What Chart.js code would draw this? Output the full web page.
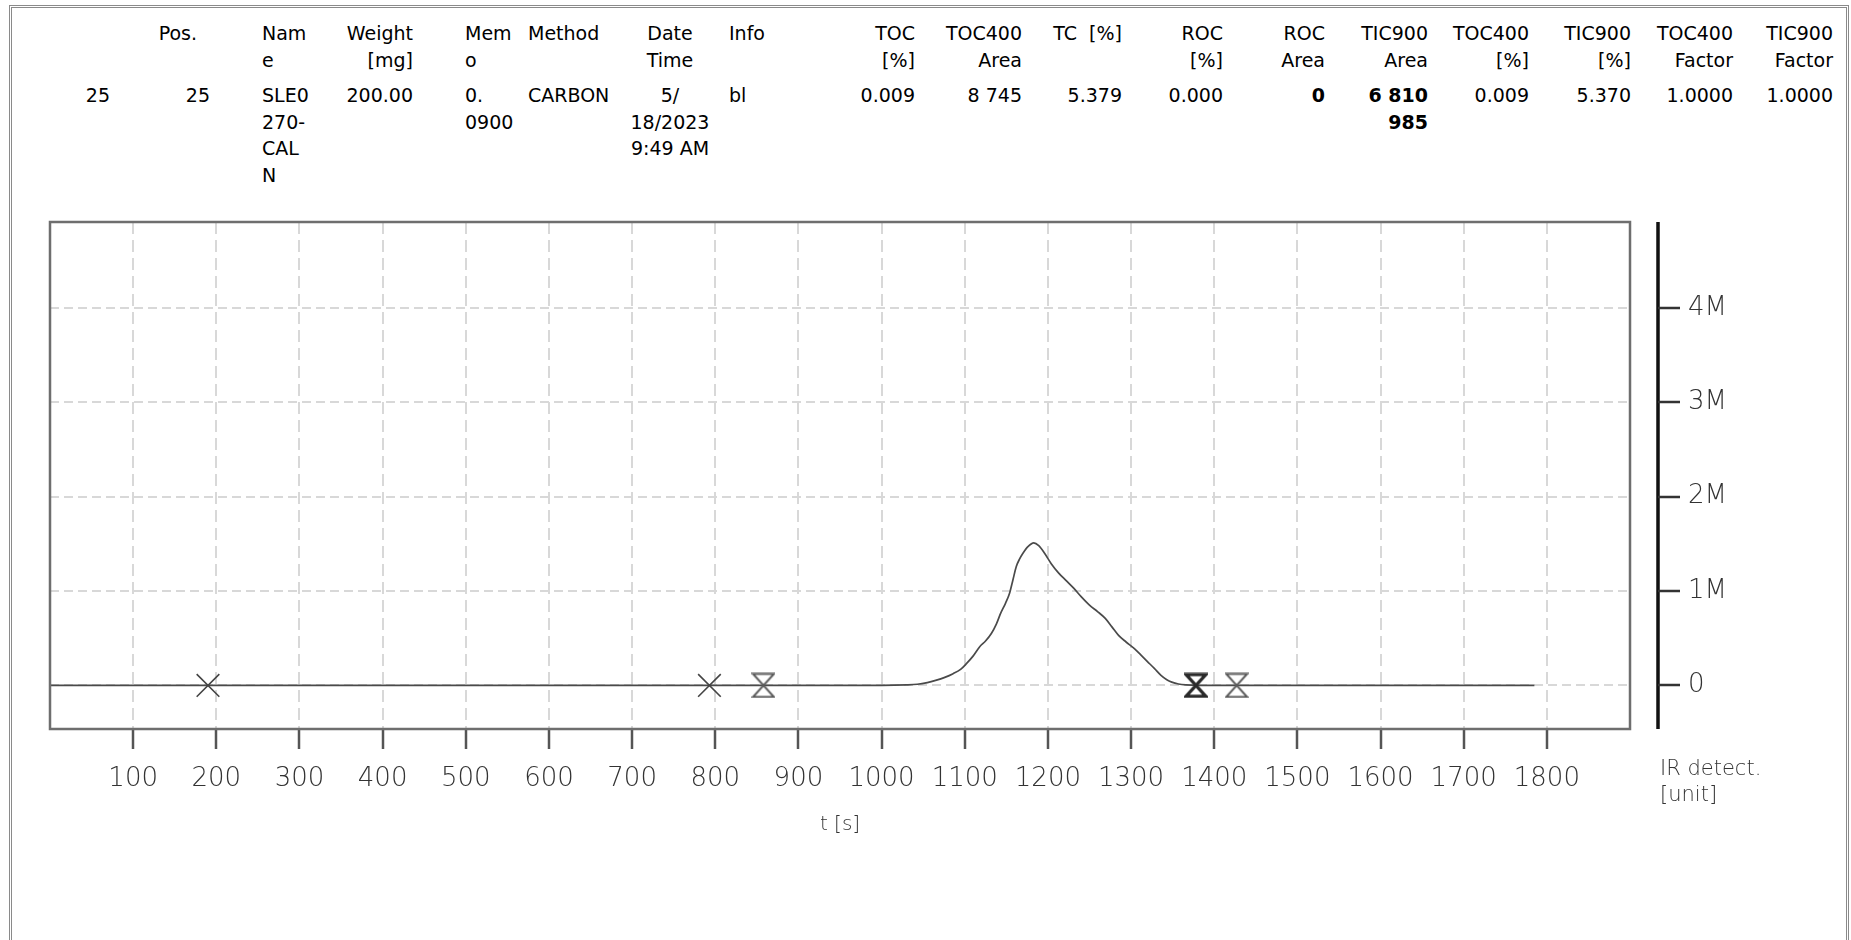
<!DOCTYPE html>
<html>
<head>
<meta charset="utf-8">
<script src="https://cdn.jsdelivr.net/npm/chart.js@4.4.0/dist/chart.umd.min.js"></script>
<style>
  html, body { margin:0; padding:0; background:#fff; }
  body { width:1851px; height:940px; position:relative; overflow:hidden; font-family:"DejaVu Sans", sans-serif; }
  #frame { position:absolute; left:9px; top:5px; width:1834px; height:1000px; border:3px double #8a8a8a; box-sizing:content-box; }
  .cell { position:absolute; font-size:19px; line-height:26.7px; color:#000; white-space:nowrap; width:300px; }
  .r { text-align:right; } .l { text-align:left; } .c { text-align:center; }
  .b { font-weight:bold; }
  #chartWrap { position:absolute; left:0; top:0; width:1851px; height:940px; }
  .lbl { position:absolute; font-family:"DejaVu Sans", sans-serif; font-weight:200; color:#333; white-space:nowrap; }
</style>
</head>
<body>
<div id="frame"></div>
<div id="table"></div>
<div id="chartWrap"><canvas id="c" width="1851" height="940"></canvas></div>
<div class="lbl" style="left:1660px; top:755px; font-size:21px; line-height:26px;">IR detect.<br>[unit]</div>
<script>
// ---------- table data ----------
const colHeads  = ["", "Pos.", "Nam<br>e", "Weight<br>[mg]", "Mem<br>o", "Method", "Date<br>Time", "Info",
                   "TOC<br>[%]", "TOC400<br>Area", "TC&nbsp;&nbsp;[%]", "ROC<br>[%]", "ROC<br>Area", "TIC900<br>Area",
                   "TOC400<br>[%]", "TIC900<br>[%]", "TOC400<br>Factor", "TIC900<br>Factor"];
const colValues = ["25", "25", "SLE0<br>270-<br>CAL<br>N", "200.00", "0.<br>0900", "CARBON", "5/<br>18/2023<br>9:49 AM", "bl",
                   "0.009", "8&nbsp;745", "5.379", "0.000", "0", "6&nbsp;810<br>985",
                   "0.009", "5.370", "1.0000", "1.0000"];
const boldValues = [12, 13];

// layout of the table (positions kept separate from values)
const headAnchor = [0, 197, 262, 413, 465, 528, 670, 729, 915, 1022, 1122, 1223, 1325, 1428, 1529, 1631, 1733, 1833];
const dataAnchor = [110, 210, 262, 413, 465, 528, 670, 729, 915, 1022, 1122, 1223, 1325, 1428, 1529, 1631, 1733, 1833];
const colAlign   = ["r","r","l","r","l","l","c","l","r","r","r","r","r","r","r","r","r","r"];

// ---------- chart data ----------
const times  = [0, 1000, 1030, 1043, 1055, 1065, 1076, 1086, 1095, 1102, 1110, 1118, 1125, 1132, 1138, 1143, 1149, 1154,
                1158, 1162, 1166, 1170, 1176, 1183, 1189, 1196, 1204, 1213, 1222, 1231, 1240, 1250, 1260, 1269, 1277,
                1285, 1294, 1304, 1312, 1320, 1328, 1336, 1343, 1349, 1357, 1366, 1380, 1785];
const signal = [0, 0, 5000, 12000, 30000, 53000, 85000, 124000, 170000, 230000, 310000, 410000, 470000, 550000, 650000,
                760000, 870000, 980000, 1120000, 1260000, 1340000, 1400000, 1470000, 1510000, 1480000, 1400000, 1290000,
                1190000, 1110000, 1030000, 940000, 850000, 780000, 710000, 620000, 530000, 460000, 390000, 320000,
                250000, 180000, 106000, 60000, 35000, 15000, 5000, 0, 0];
const markerTimes = [190, 793, 858, 1378, 1427];
const markerValues = [0, 0, 0, 0, 0];
const markerKinds = ["x", "x", "hourglass", "hourglassBold", "hourglass"];

const xTickValues = [100, 200, 300, 400, 500, 600, 700, 800, 900, 1000, 1100, 1200, 1300, 1400, 1500, 1600, 1700, 1800];
const yTickValues = [0, 1000000, 2000000, 3000000, 4000000];
const yTickLabels = ["0", "1M", "2M", "3M", "4M"];

// ---------- build table ----------
const table = document.getElementById('table');
function place(html, anchor, align, top, bold) {
  const d = document.createElement('div');
  d.className = 'cell ' + align + (bold ? ' b' : '');
  let left = anchor;
  if (align === 'r') left = anchor - 300;
  if (align === 'c') left = anchor - 150;
  d.style.left = left + 'px';
  d.style.top = top + 'px';
  d.innerHTML = html;
  table.appendChild(d);
}
colHeads.forEach((h, i) => { if (h) place(h, headAnchor[i], colAlign[i], 20, false); });
colValues.forEach((v, i) => place(v, dataAnchor[i], colAlign[i], 82, boldValues.includes(i)));

// ---------- marker images ----------
function hourglass(color, lw) {
  const W = 24, H = 26;
  const c = document.createElement('canvas');
  c.width = W; c.height = H;
  const g = c.getContext('2d');
  const p = lw / 2 + 0.5;
  g.strokeStyle = color; g.lineWidth = lw; g.lineJoin = 'miter';
  g.beginPath();
  g.moveTo(p, p); g.lineTo(W - p, p); g.lineTo(p, H - p); g.lineTo(W - p, H - p); g.closePath();
  g.stroke();
  return c;
}
const hgNormal = hourglass('#5a5a5a', 2);
const hgBold = hourglass('#2a2a2a', 3.2);
const markerStyle = markerKinds.map(k => k === 'x' ? 'crossRot' : (k === 'hourglass' ? hgNormal : hgBold));

// ---------- plugin: plot frame and detached right axis ----------
const framePlugin = {
  id: 'frame',
  afterDatasetsDraw(chart) {
    const { ctx, chartArea: { left, top, right, bottom } } = chart;
    const y = chart.scales.y;
    ctx.save();
    ctx.strokeStyle = '#6e6e6e';
    ctx.lineWidth = 2.5;
    ctx.strokeRect(left, top, right - left, bottom - top);
    const ax = right + 28;
    ctx.strokeStyle = '#111';
    ctx.lineWidth = 3.5;
    ctx.beginPath(); ctx.moveTo(ax, top); ctx.lineTo(ax, bottom); ctx.stroke();
    ctx.strokeStyle = '#333';
    ctx.lineWidth = 2.5;
    y.ticks.forEach(t => {
      const py = Math.round(y.getPixelForValue(t.value));
      ctx.beginPath(); ctx.moveTo(ax, py); ctx.lineTo(ax + 22, py); ctx.stroke();
    });
    ctx.restore();
  }
};

const axisFont = { family: 'DejaVu Sans', size: 26, weight: 200 };

new Chart(document.getElementById('c'), {
  type: 'line',
  data: {
    datasets: [
      {
        label: 'markers',
        data: markerTimes.map((t, i) => ({ x: t, y: markerValues[i] })),
        showLine: false,
        pointStyle: markerStyle,
        pointRadius: 16,
        pointBorderColor: '#444',
        pointBackgroundColor: 'rgba(0,0,0,0)',
        pointBorderWidth: 1.6
      },
      {
        label: 'IR detect.',
        data: times.map((t, i) => ({ x: t, y: signal[i] })),
        borderColor: '#4a4a4a',
        borderWidth: 1.7,
        pointRadius: 0,
        cubicInterpolationMode: 'monotone',
        fill: false
      }
    ]
  },
  options: {
    responsive: false,
    animation: false,
    devicePixelRatio: 1,
    layout: { padding: { left: 50, top: 222, right: 0, bottom: 0 } },
    plugins: { legend: { display: false }, tooltip: { enabled: false } },
    scales: {
      x: {
        type: 'linear', position: 'bottom', min: 0, max: 1900,
        afterBuildTicks: s => { s.ticks = xTickValues.map(v => ({ value: v })); },
        afterFit: s => { s.height = 940 - 729; },
        grid: { color: '#d8d8d8', lineWidth: 2, drawTicks: true, tickLength: 20, tickColor: '#555', tickWidth: 2.5, tickBorderDash: [] },
        border: { display: false, dash: [12, 6] },
        ticks: { font: axisFont, color: '#333', padding: 15, maxRotation: 0, autoSkip: false, callback: v => String(v) },
        title: { display: true, text: 't [s]', color: '#333', font: { family: 'DejaVu Sans', size: 20, weight: 200 }, padding: { top: 0, bottom: 103 } }
      },
      y: {
        type: 'linear', position: 'right', min: -462000, max: 4910000,
        afterBuildTicks: s => { s.ticks = yTickValues.map(v => ({ value: v })); },
        afterFit: s => { s.width = 1851 - 1630; },
        grid: { color: '#d8d8d8', lineWidth: 2, drawTicks: false },
        border: { display: false, dash: [9, 5] },
        ticks: { font: axisFont, color: '#333', padding: 58, callback: v => yTickLabels[yTickValues.indexOf(v)] }
      }
    }
  },
  plugins: [framePlugin]
});
</script>
</body>
</html>
